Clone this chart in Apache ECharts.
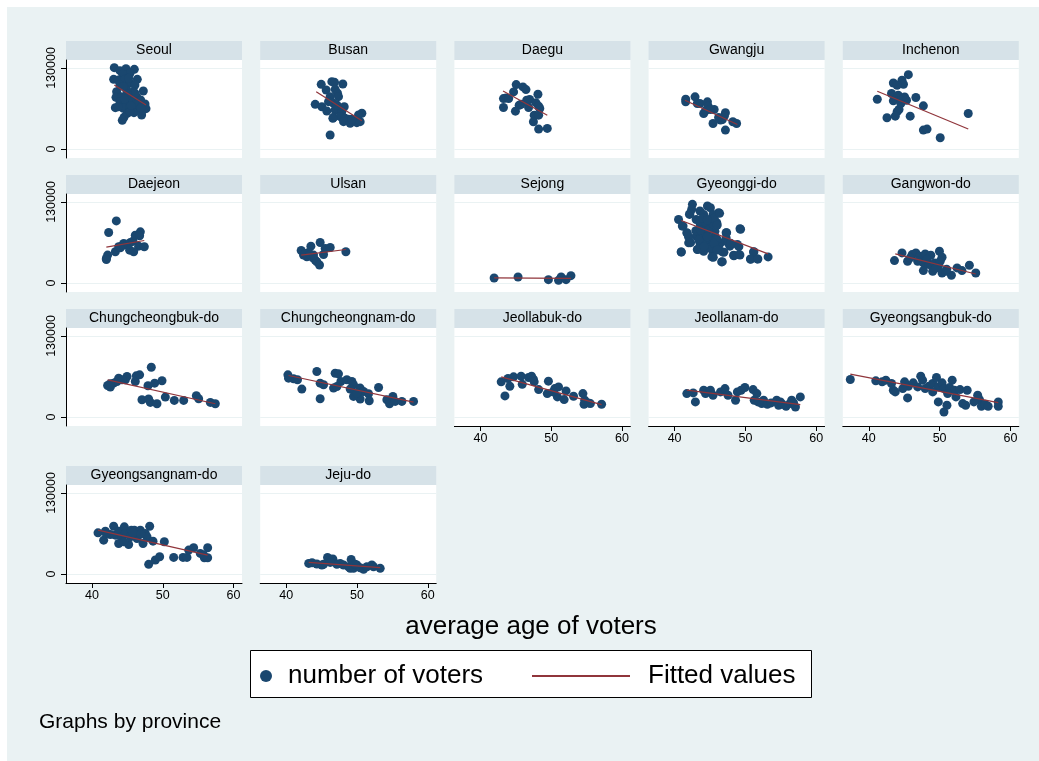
<!DOCTYPE html>
<html>
<head>
<meta charset="utf-8">
<title>Number of voters by average age, by province</title>
<script src="https://cdn.jsdelivr.net/npm/echarts@6/dist/echarts.min.js"></script>
<style>
html, body { margin: 0; padding: 0; background: #fff; }
#chart { width: 1039px; height: 761px; }
</style>
</head>
<body>
<div id="chart"></div>
<script>
// panel order, row by row
const provinces = ['Seoul', 'Busan', 'Daegu', 'Gwangju', 'Inchenon',
    'Daejeon', 'Ulsan', 'Sejong', 'Gyeonggi-do', 'Gangwon-do',
    'Chungcheongbuk-do', 'Chungcheongnam-do', 'Jeollabuk-do', 'Jeollanam-do', 'Gyeongsangbuk-do',
    'Gyeongsangnam-do', 'Jeju-do'];

// [average age, number of voters]
const seoul = [[43.15,130500],[43.95,125700],[44.8,128900],[45.98,127900],[45.37,121500],[44.33,120400],
    [43.06,111800],[43.72,110800],[46.4,111800],[44.66,111800],[45.37,105400],[43.95,102700],[46.07,102700],
    [47.25,93100],[43.48,92000],[44.9,94700],[45.84,92000],[43.39,82900],[44.19,84000],[45.13,84000],
    [46.31,84000],[46.87,78700],[43.95,76000],[44.8,74400],[45.84,76000],[47.49,72200],[43.3,66300],
    [44.43,65300],[45.37,66900],[46.4,65300],[47.63,64700],[44.99,57300],[45.93,58300],[47.01,54600],
    [44.52,50800],[44.28,46000],[45.37,59900],[46.54,70600],[47.16,62600],[45.6,81300],[43.72,67900],
    [46.07,89400],[44.43,100000],[45.18,113400],[45.0,88000],[44.6,80000],[46.2,72000],[45.5,70000],[46.9,66000]];
const busan = [[44.95,103800],[45.65,94700],[46.45,108100],[46.83,107000],[48.0,104300],[46.92,95800],
    [47.25,89400],[46.21,84000],[47.39,84000],[44.1,71700],[45.04,67900],[45.98,76000],[46.69,73300],
    [48.2,67900],[45.74,61000],[46.92,62600],[47.86,59900],[46.69,50800],[47.63,51900],[48.33,49200],
    [48.8,47600],[48.1,43900],[49.04,41200],[49.98,42300],[50.45,43900],[50.69,57300],[50.22,54600],
    [49.27,47600],[46.21,22500],[47.16,70600],[46.59,49200]];
const daegu = [[45.06,103400],[46.01,99600],[46.44,95400],[44.69,91600],[43.63,82000],[43.26,80900],
    [44.0,80900],[48.13,87900],[46.96,79400],[45.75,71900],[45.48,70300],[46.81,66600],[47.86,74100],
    [48.23,68700],[48.39,65000],[44.95,60700],[43.26,66600],[47.6,54300],[48.23,54300],[47.49,43700],
    [48.23,32000],[49.45,33000],[46.54,78300]];
const gwangju = [[41.57,79900],[41.57,75700],[42.89,83700],[43.21,73000],[43.58,73000],[44.64,75700],
    [44.74,68700],[44.11,57000],[44.37,61300],[45.59,63400],[45.06,63400],[45.43,41000],[46.49,46400],
    [47.18,58100],[47.02,52700],[46.75,47400],[48.23,43700],[48.76,41000],[47.18,30400],[46.22,50600]];
const inchenon = [[45.59,119300],[43.47,106000],[44.69,110300],[44.9,103900],[44.0,102300],[43.21,89000],
    [44.16,86300],[45.06,83600],[41.2,79900],[43.47,77300],[44.53,78300],[45.33,78300],[46.65,82600],
    [47.71,69300],[44.27,63400],[44.0,59700],[43.74,52700],[42.57,50100],[45.85,52700],[54.05,57000],
    [47.71,30400],[48.23,32000],[50.09,18100],[44.53,73000]];
const daejeon = [[43.44,99600],[42.36,81000],[42.03,39400],[42.21,44800],[42.03,37800],[43.3,50100],
    [43.77,58100],[44.48,63400],[44.24,59700],[44.95,60700],[45.42,65000],[45.79,67100],[46.12,76700],
    [46.83,82100],[46.73,75700],[46.59,59100],[47.39,58100],[45.32,52700],[45.89,50100],[44.0,56500]];
const ulsan = [[42.12,52200],[42.45,44800],[42.92,42100],[43.49,59100],[43.16,49000],[43.77,40500],
    [44.1,36800],[44.33,34100],[44.71,28800],[44.8,65000],[45.28,45800],[45.51,55400],[46.22,57000],
    [48.43,50100],[42.69,47400],[43.39,45800],[43.86,44800]];
const sejong = [[41.94,8100],[45.32,9700],[49.61,5400],[51.04,4300],[51.41,9700],[52.1,5400],[52.79,11800]];
const gyeonggi = [[42.52,126200],[42.41,118100],[44.64,123500],[45.06,120800],[43.58,115500],[46.22,112800],
    [44.11,110100],[45.43,110100],[42.1,110100],[40.56,102000],[43.05,102000],[44.11,99300],[44.9,102000],
    [45.96,96700],[41.2,91300],[43.58,88600],[45.17,91300],[41.73,80600],[44.11,80600],[47.28,80600],
    [49.24,87000],[43.05,75200],[44.11,72500],[45.7,75200],[41.99,64400],[43.58,64400],[45.17,67100],
    [46.49,64400],[47.55,64400],[48.87,61800],[44.64,59100],[46.22,59100],[47.81,59100],[43.21,53700],
    [44.11,51000],[45.43,49900],[46.75,49900],[40.93,49900],[48.34,44600],[49.13,45600],[45.27,41900],
    [46.65,33800],[50.72,38700],[51.67,38700],[53.21,41900],[51.15,49900],[45.7,83200],[43.58,96700],
    [47.28,72500],[41.99,73600],[44.37,91300],[44.8,85000],[45.4,95000],[44.2,67000],[46.0,70000],
    [43.0,84000],[45.0,56000],[44.0,104000],[45.6,104000],[46.36,111800],[42.17,111200],[41.09,91500],
    [41.8,79700],[42.26,64700],[40.95,49800],[43.3,54000],[45.47,41200],[46.74,34200],[49.32,86200],
    [47.35,80700],[47.91,63700],[49.08,58300],[46.97,49300],[48.38,43800],[49.23,44900],[51.21,50200],
    [50.74,38000],[51.77,38500],[44.62,101100],[46.03,93100],[43.67,85100],[44.62,74300],[45.56,63700],
    [43.43,69000],[44.14,58300],[46.03,53000]];
const gangwon = [[43.63,36000],[44.69,48300],[45.48,34900],[46.12,45600],[46.65,48300],[47.18,43000],
    [47.97,46700],[48.76,44600],[49.98,51000],[50.35,41300],[46.91,34900],[47.71,32200],[48.5,29500],
    [49.3,32200],[49.82,26900],[47.71,19900],[49.03,18800],[50.35,16100],[51.67,12400],[52.47,24200],
    [53.16,19900],[54.21,28500],[55.11,16100],[50.88,18800],[50.09,34900],[45.85,40300],[48.2,38000],
    [49.5,24000],[51.0,22000]];
const chungbuk = [[42.21,50600],[42.59,48000],[43.06,54300],[43.53,57000],[43.77,62300],[44.71,59700],
    [44.95,65000],[46.12,57000],[46.26,66100],[46.73,67700],[48.38,79900],[47.91,50100],[48.85,54300],
    [49.89,58100],[47.06,27700],[48.0,28800],[48.24,23400],[49.18,21300],[50.36,32000],[51.63,26600],
    [52.95,26600],[54.74,34100],[55.07,29300],[56.72,23400],[57.42,21300],[42.59,53300],[44.24,59700]];
const chungnam = [[40.24,67700],[40.33,62300],[41.04,61300],[41.6,59700],[42.21,44800],[44.33,73000],
    [44.8,54300],[45.28,51700],[44.8,29300],[46.92,70300],[47.39,69300],[47.72,57000],[46.69,46400],
    [47.16,49000],[48.57,59700],[49.28,57000],[49.51,51700],[49.04,44800],[50.45,46400],[50.93,41000],
    [51.63,37300],[50.45,28800],[51.73,26100],[53.05,47400],[54.22,27700],[54.6,21300],[55.07,33000],
    [55.4,25000],[56.34,25000],[57.99,25000],[49.51,33000],[49.98,38400]];
const jeollabuk = [[42.94,56400],[43.47,33800],[43.9,61800],[44.16,49400],[44.69,64400],[45.75,65500],
    [45.91,52600],[46.81,63400],[47.23,65500],[47.49,60700],[47.6,56400],[48.23,44000],[49.45,37600],
    [49.61,57500],[50.51,45600],[50.88,32200],[51.04,48300],[51.83,27900],[52.1,41900],[53.16,33300],
    [54.48,37600],[54.64,20400],[54.74,26900],[55.27,22600],[55.54,21500],[57.12,20400],[50.25,40300]];
const jeollanam = [[41.73,37600],[42.63,38700],[42.94,24200],[44.11,43000],[44.37,37600],[45.06,43000],
    [45.43,34900],[46.49,40300],[47.12,45600],[47.55,34900],[48.61,26900],[48.87,40300],[49.4,43000],
    [49.93,47300],[51.09,44000],[51.25,26900],[51.62,37600],[51.78,24200],[52.31,21500],[52.57,26900],
    [53.1,20400],[53.63,22600],[54.42,26900],[54.69,18800],[54.95,24200],[55.75,17200],[56.28,21500],
    [56.54,26900],[57.07,16100],[57.76,32200],[56.81,22600],[55.22,20400]];
const gyeongbuk = [[37.39,60100],[40.99,58000],[41.89,56400],[42.41,59100],[43.21,53700],[43.47,43000],
    [43.74,40300],[45.06,56400],[45.48,30600],[45.59,49400],[46.28,54800],[46.91,48300],[47.34,65500],
    [47.6,59100],[47.97,45600],[48.5,49400],[49.03,53700],[49.56,63400],[49.82,48300],[49.82,24200],
    [50.35,54800],[50.62,45600],[51.04,18800],[50.62,8100],[51.41,47300],[51.78,59100],[52.1,43000],
    [52.31,32200],[52.89,44000],[53.26,21500],[53.68,18800],[53.9,43000],[55.38,34900],[55.64,27900],
    [55.91,17200],[56.44,20400],[56.86,17200],[58.29,24200],[58.29,17200],[49.03,40300],[44.8,45600],
    [51.14,37600],[54.85,24200]];
const gyeongnam = [[40.85,66100],[41.65,54300],[41.89,68700],[42.59,63400],[43.06,76700],[43.3,62300],
    [43.77,68700],[43.77,49000],[44.24,59700],[44.57,75700],[44.71,65000],[45.18,47400],[45.56,70300],
    [45.98,70300],[46.26,62300],[46.59,67700],[46.83,70300],[47.21,49000],[47.54,65000],[48.15,76700],
    [47.77,59700],[48.62,52700],[50.22,51700],[48.01,15500],[48.95,22400],[49.56,27700],[51.54,26600],
    [52.86,26600],[53.42,26600],[53.66,38400],[54.36,42100],[55.3,33000],[55.87,26100],[56.34,26100],
    [56.34,42100],[55.77,30400],[45.42,59700],[46.36,57000],[44.47,51700],[45.8,66000],[46.9,64000],
    [42.0,65000]];
const jeju = [[43.18,17000],[43.65,18100],[44.33,16000],[45.04,14400],[45.28,15500],[45.84,26600],
    [46.59,24000],[46.69,19700],[47.16,15500],[47.63,17000],[48.1,14400],[48.81,11700],[49.18,23400],
    [49.04,9100],[49.51,9100],[49.98,14400],[50.45,10100],[50.93,7500],[51.4,11700],[52.1,14400],
    [52.34,11700],[53.28,9100],[49.75,15500],[46.22,18600]];

const voters = [seoul, busan, daegu, gwangju, inchenon, daejeon, ulsan, sejong, gyeonggi, gangwon,
    chungbuk, chungnam, jeollabuk, jeollanam, gyeongbuk, gyeongnam, jeju];

// ends of the fitted line
const fitted = [
    [[43.15,102700],[47.63,70600]], [[44.24,92000],[50.69,45500]], [[43.2,93200],[49.45,54300]],
    [[41.46,78300],[48.87,39400]], [[41.2,92700],[54.05,32000]], [[42.03,57500],[47.39,68200]],
    [[42.12,44800],[48.43,53800]], [[41.94,8100],[52.79,7500]], [[40.93,100400],[53.21,46700]],
    [[43.74,46700],[55.11,14500]], [[42.21,59700],[57.42,21300]], [[40.33,66600],[57.99,24000]],
    [[42.94,64400],[57.12,19900]], [[41.73,43000],[57.76,19900]], [[37.39,68700],[58.29,23100]],
    [[40.85,70300],[56.34,30400]], [[43.18,18600],[53.28,10100]]
];

const xTicks = [40, 50, 60];
const yTicks = [0, 130000];

const FONT = '"Liberation Sans", Arial, sans-serif';
const NAVY = '#1a476f', MAROON = '#90353b', BG = '#eaf2f3', STRIP = '#d6e2e8';
const NCOL = 5, PLOT_W = 176, PLOT_H = 98, COL_STEP = 194.2, STRIP_H = 19;
const rowTop = [60, 194, 328, 485];

const grids = [], xAxes = [], yAxes = [], series = [];
const graphics = [
    {type: 'rect', z: -10, silent: true, shape: {x: 7, y: 7, width: 1032, height: 754}, style: {fill: BG}},
    {type: 'rect', silent: true, shape: {x: 250.5, y: 650.5, width: 561, height: 47}, style: {fill: '#fff', stroke: '#000', lineWidth: 1}},
    {type: 'text', silent: true, x: 531, y: 627, style: {text: 'average age of voters', font: '26px ' + FONT, fill: '#000', align: 'center', verticalAlign: 'middle'}},
    {type: 'text', silent: true, x: 39, y: 722, style: {text: 'Graphs by province', font: '21px ' + FONT, fill: '#000', align: 'left', verticalAlign: 'middle'}}
];

provinces.forEach(function (name, i) {
    const r = Math.floor(i / NCOL), c = i % NCOL;
    const left = 66 + c * COL_STEP, top = rowTop[r];
    const bottomOfCol = i + NCOL >= provinces.length;
    const firstCol = c === 0;

    grids.push({left: left, top: top, width: PLOT_W, height: PLOT_H, show: true,
        backgroundColor: '#fff', borderWidth: 0});

    xAxes.push({
        type: 'value', gridIndex: i, min: 36.33, max: 61.19,
        axisLine: {show: bottomOfCol, onZero: false, lineStyle: {color: '#000', width: 1}},
        axisTick: {show: bottomOfCol, customValues: xTicks, length: 5, lineStyle: {color: '#000'}},
        axisLabel: {show: bottomOfCol, customValues: xTicks, margin: 6, color: '#000', fontSize: 12.5, fontFamily: FONT},
        splitLine: {show: false}
    });
    yAxes.push({
        type: 'value', gridIndex: i, min: -14444, max: 142840,
        axisLine: {show: firstCol, onZero: false, lineStyle: {color: '#000', width: 1}},
        axisTick: {show: firstCol, customValues: yTicks, length: 5, lineStyle: {color: '#000'}},
        axisLabel: {show: firstCol, customValues: yTicks, rotate: 90, margin: 8, color: '#000', fontSize: 12.5,
            fontFamily: FONT, formatter: function (v) { return String(v); }},
        splitLine: {show: true, lineStyle: {color: BG, width: 1}}
    });

    series.push({
        name: 'number of voters', type: 'scatter', xAxisIndex: i, yAxisIndex: i,
        data: voters[i], symbol: 'circle', symbolSize: 9,
        itemStyle: {color: NAVY, opacity: 1}
    });
    series.push({
        name: 'Fitted values', type: 'line', xAxisIndex: i, yAxisIndex: i,
        data: fitted[i], symbol: 'none', z: 3,
        lineStyle: {color: MAROON, width: 1.2}, itemStyle: {color: MAROON}
    });

    // strip title above each panel
    graphics.push({type: 'rect', silent: true,
        shape: {x: left, y: top - STRIP_H, width: PLOT_W, height: STRIP_H}, style: {fill: STRIP}});
    graphics.push({type: 'text', silent: true, x: left + PLOT_W / 2, y: top - STRIP_H / 2,
        style: {text: name, font: '14px ' + FONT, fill: '#000', align: 'center', verticalAlign: 'middle'}});
});

const chart = echarts.init(document.getElementById('chart'), null, {renderer: 'canvas'});
chart.setOption({
    backgroundColor: '#fff',
    animation: false,
    grid: grids,
    xAxis: xAxes,
    yAxis: yAxes,
    series: series,
    legend: [
        {data: [{name: 'number of voters', icon: 'circle'}], left: 260, top: 663, padding: 0,
            itemWidth: 34, itemHeight: 12, selectedMode: false,
            textStyle: {fontSize: 26, fontFamily: FONT, color: '#000'}},
        {data: [{name: 'Fitted values', icon: 'rect'}], left: 532, top: 663, padding: 0,
            itemWidth: 98, itemHeight: 2, selectedMode: false,
            textStyle: {fontSize: 26, fontFamily: FONT, color: '#000', padding: [0, 0, 0, 13]}}
    ],
    graphic: graphics
});
</script>
</body>
</html>
